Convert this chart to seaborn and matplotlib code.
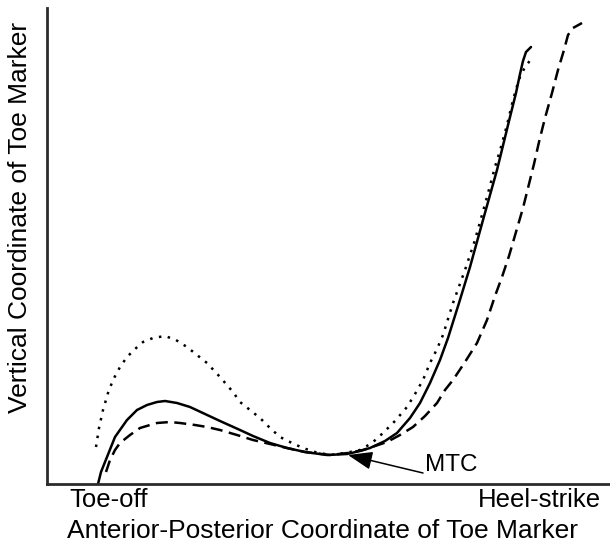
import numpy as np
import pandas as pd
import matplotlib
matplotlib.use("Agg")
import matplotlib.pyplot as plt
import seaborn as sns

# Toe trajectories during swing (arbitrary units: anterior-posterior, vertical)
solid_x = [51, 54, 60, 68, 80, 90, 100, 110, 118, 130, 143, 158, 173, 193, 206, 223,
           240, 258, 280, 300, 313, 323, 338, 350, 363, 373, 383, 393, 401, 412,
           423, 436, 450, 463, 469, 473, 476, 479, 484]
solid_y = [0, 12, 27, 47, 64, 74, 79, 82, 83, 81, 77, 70, 63, 54, 48, 41,
           36, 32, 29, 30, 33, 36, 43, 51, 66, 81, 101, 124, 146, 181,
           217, 264, 314, 367, 391, 410, 423, 432, 437]

dotted_x = [49, 52, 56, 61, 66, 73, 80, 88, 96, 106, 118, 129, 140, 150, 160, 173,
            186, 193, 203, 213, 223, 233, 245, 256, 268, 283, 298, 313, 325, 336,
            348, 360, 368, 376, 383, 390, 396, 406, 418, 428, 440, 448, 454, 460,
            466, 470, 473, 478, 485]
dotted_y = [37, 56, 74, 91, 104, 117, 127, 135, 142, 146, 148, 144, 137, 129, 121, 107,
            92, 82, 74, 66, 56, 47, 41, 36, 32, 29, 31, 34, 41, 51,
            63, 77, 90, 104, 121, 135, 149, 181, 214, 244, 287, 317, 337, 359,
            384, 398, 407, 417, 426]

dashed_x = [59, 63, 68, 73, 83, 93, 103, 110, 123, 133, 148, 160, 173, 190, 206, 223,
            240, 258, 283, 301, 316, 328, 340, 353, 366, 378, 390, 398, 406, 418,
            430, 440, 448, 455, 462, 469, 476, 482, 487, 492, 498, 505, 511, 517,
            521, 526, 535]
dashed_y = [12, 24, 34, 41, 49, 56, 59, 61, 62, 61, 59, 57, 54, 49, 44, 40,
            36, 32, 29, 31, 34, 38, 42, 49, 57, 68, 81, 94, 104, 122,
            141, 164, 188, 207, 228, 252, 276, 300, 320, 342, 366, 391, 414, 434,
            449, 456, 461]

toe_off_x, heel_strike_x = 62, 492
mtc_tip = (301, 29)
mtc_tail = (376, 11)
mtc_label = (378, 19)

sns.set_theme(style="white")
plt.rcParams["font.family"] = ["Liberation Sans", "DejaVu Sans"]

fig = plt.figure(figsize=(6.1, 5.52), dpi=100)
ax = fig.add_axes([47 / 610, 68 / 552, 563 / 610, 476 / 552])

curves = [
    ("solid", solid_x, solid_y),
    ("dotted", dotted_x, dotted_y),
    ("dashed", dashed_x, dashed_y),
]
for name, xs, ys in curves:
    df = pd.DataFrame({"ap": xs, "vert": ys})
    sns.lineplot(data=df, x="ap", y="vert", ax=ax, sort=False, estimator=None,
                 color="black", linewidth=1.8)
    line = ax.lines[-1]
    line.set_solid_joinstyle("round")
    if name == "dotted":
        line.set_dashes((1.0, 2.6))
        line.set_dash_capstyle("butt")
    elif name == "dashed":
        line.set_dashes((4.8, 2.6))
        line.set_dash_capstyle("butt")

ax.annotate("", xy=mtc_tip, xytext=mtc_tail,
            arrowprops=dict(arrowstyle="-|>,head_length=0.75,head_width=0.28",
                            color="black", lw=1.1, mutation_scale=20,
                            shrinkA=0, shrinkB=0))
ax.text(mtc_label[0], mtc_label[1], "MTC", fontsize=17.5, va="center", ha="left",
        color="black")

ax.set_xlim(0, 563)
ax.set_ylim(0, 476)
ax.set_xticks([toe_off_x, heel_strike_x])
ax.set_xticklabels(["Toe-off", "Heel-strike"], fontsize=18.5, color="black")
ax.set_yticks([])
ax.tick_params(axis="x", length=0, pad=3)
ax.set_xlabel("Anterior-Posterior Coordinate of Toe Marker", fontsize=19,
              color="black")
ax.set_ylabel("Vertical Coordinate of Toe Marker", fontsize=19, color="black")
ax.xaxis.set_label_coords(0.49, -0.073)
ax.yaxis.set_label_coords(-0.027, 0.559)

for side in ["top", "right"]:
    ax.spines[side].set_visible(False)
for side in ["left", "bottom"]:
    ax.spines[side].set_color("#2b2b2b")
    ax.spines[side].set_linewidth(2.0)

fig.savefig("out.png", dpi=100)
